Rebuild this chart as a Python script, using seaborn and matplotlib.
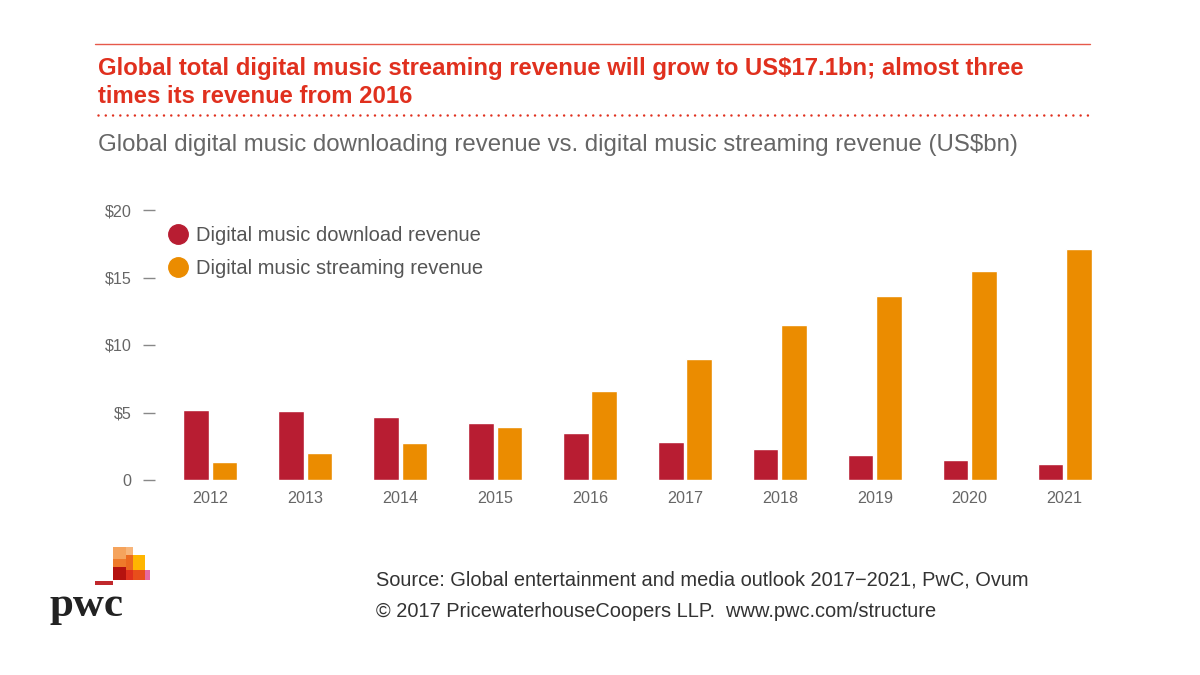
   #import libraries.
import pandas as pd
import numpy as np
import seaborn as sns
import matplotlib.pyplot as plt
from matplotlib.lines import Line2D
from matplotlib.patches import Rectangle

   #chart values (US$bn).
years = ['2012', '2013', '2014', '2015', '2016', '2017', '2018', '2019', '2020', '2021']
download_rev = [5.2, 5.1, 4.7, 4.25, 3.45, 2.85, 2.3, 1.85, 1.5, 1.2]
streaming_rev = [1.35, 2.0, 2.75, 3.95, 6.6, 9.0, 11.45, 13.65, 15.5, 17.1]
series_names = ['Digital music download revenue', 'Digital music streaming revenue']
ytick_vals = [0, 5, 10, 15, 20]
ytick_labels = ['0', '$5', '$10', '$15', '$20']

   #long format for seaborn.
df = pd.DataFrame({
    'Year': years * 2,
    'Revenue': download_rev + streaming_rev,
    'Series': [series_names[0]] * len(years) + [series_names[1]] * len(years),
})

sns.set_style('white')
plt.rcParams['font.family'] = ['Liberation Sans', 'DejaVu Sans']

RED = '#B81D32'
ORANGE = '#EB8C00'
PWC_RED = '#E0301E'
GREY = '#666666'

W, H = 1200, 675
fig = plt.figure(figsize=(12, 6.75), dpi=100)

def fx(px):
    return px / W

def fy(py):
    return 1 - py / H

   #main bar axes.
ax = fig.add_axes([fx(163), fy(480), fx(1112 - 163), 270 / H])
sns.barplot(data=df, x='Year', y='Revenue', hue='Series', palette=[RED, ORANGE],
            width=0.6, gap=0.1, saturation=1, ax=ax, legend=False)
ax.set_ylim(0, 20)
ax.set_xlim(-0.5, len(years) - 0.5)
ax.set_yticks(ytick_vals)
ax.set_yticklabels(ytick_labels)
ax.set_xlabel('')
ax.set_ylabel('')
for s in ['top', 'right', 'bottom', 'left']:
    ax.spines[s].set_visible(False)
ax.spines['left'].set_position(('outward', 6))
ax.tick_params(axis='y', left=True, length=8.5, width=1, color='#888888',
               pad=8, labelsize=11.6, labelcolor=GREY, direction='out')
ax.tick_params(axis='x', bottom=False, length=0, pad=8, labelsize=11.6, labelcolor=GREY)

   #legend with round markers.
handles = [Line2D([], [], marker='o', linestyle='', markersize=14, color=c) for c in [RED, ORANGE]]
ax.legend(handles, series_names, loc='upper left', bbox_to_anchor=(fx(167), fy(226)),
          bbox_transform=fig.transFigure, frameon=False, fontsize=14.5,
          labelcolor='#555555', handletextpad=0.35, labelspacing=0.68, handlelength=1.1,
          borderpad=0, borderaxespad=0)

   #header lines and text.
fig.add_artist(Line2D([fx(95), fx(1090)], [fy(44), fy(44)], color=PWC_RED, lw=1, alpha=0.8))
fig.add_artist(Line2D([fx(98), fx(1092)], [fy(115), fy(115)], color=PWC_RED, lw=1.8,
                      linestyle=(0, (0.01, 2.9)), dash_capstyle='round'))
fig.text(fx(98), fy(75), 'Global total digital music streaming revenue will grow to US$17.1bn; almost three',
         color=PWC_RED, fontsize=17.2, fontweight='bold', va='baseline')
fig.text(fx(98), fy(103), 'times its revenue from 2016',
         color=PWC_RED, fontsize=17.2, fontweight='bold', va='baseline')
fig.text(fx(98), fy(151), 'Global digital music downloading revenue vs. digital music streaming revenue (US$bn)',
         color=GREY, fontsize=17.3, va='baseline')

   #source text.
fig.text(fx(376), fy(585), 'Source: Global entertainment and media outlook 2017\u22122021, PwC, Ovum',
         color='#333333', fontsize=14.4, va='baseline')
fig.text(fx(376), fy(617), '\u00a9 2017 PricewaterhouseCoopers LLP.  www.pwc.com/structure',
         color='#333333', fontsize=14.4, va='baseline')

   #pwc logo blocks.
blocks = [
    (113, 547, 13, 12, '#F5A35C'), (113, 559, 13, 8, '#EE7A2A'), (113, 567, 13, 13, '#B5120F'),
    (126, 547, 7, 8, '#F7B57A'), (126, 555, 7, 15, '#EB6A1F'), (126, 570, 7, 10, '#E0301E'),
    (133, 555, 12, 15, '#FFB600'), (133, 570, 12, 10, '#E84E1B'),
    (145, 570, 5, 10, '#E669A0'),
    (95, 581, 18, 4, '#C0282C'),
]
for bx, by, bw, bh, bc in blocks:
    fig.add_artist(Rectangle((fx(bx), fy(by + bh)), bw / W, bh / H, color=bc, lw=0))
fig.text(fx(50), fy(616), 'pwc', family=['Liberation Serif', 'DejaVu Serif'],
         fontweight='bold', fontsize=31, color='#222222', va='baseline')

fig.savefig('out.png', dpi=100)
